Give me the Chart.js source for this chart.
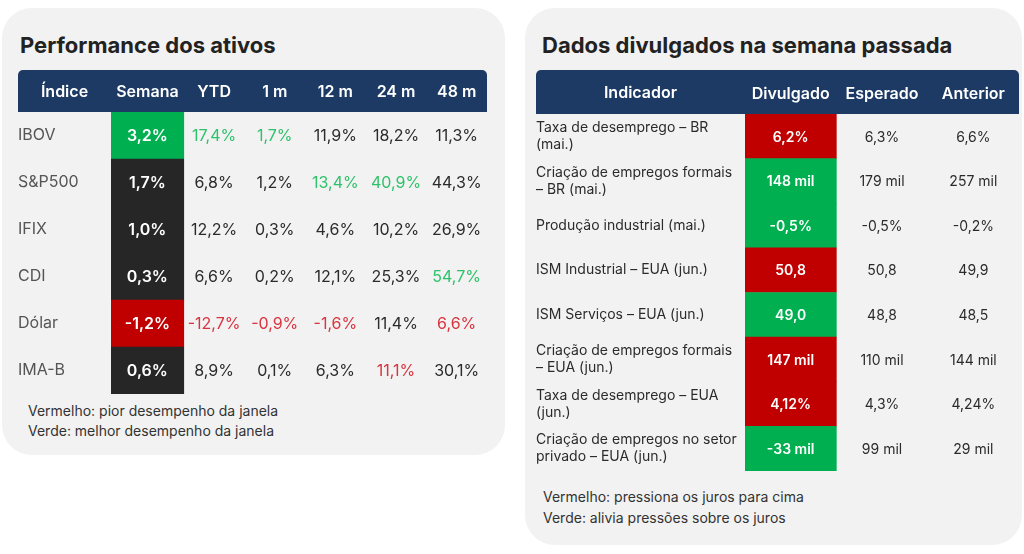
<!DOCTYPE html>
<html lang="pt-BR">
<head>
<meta charset="utf-8">
<title>Performance dos ativos / Dados divulgados</title>
<script src="https://cdn.jsdelivr.net/npm/chart.js@4.4.1/dist/chart.umd.min.js"></script>
<style>
  html, body { margin: 0; padding: 0; background: #fff; }
  body { width: 1024px; height: 554px; position: relative; overflow: hidden; font-family: Inter, "Noto Sans", sans-serif; color: #262626; }
  .painel { position: absolute; background: #f2f2f2; border-radius: 30px; }
  .titulo { position: absolute; font-size: 22px; line-height: 22px; font-weight: 700; color: #222; white-space: nowrap; }
  .nota { position: absolute; color: #333; white-space: nowrap; font-size: 14px; }
  .caixa { position: absolute; }
</style>
</head>
<body>
<div class="painel" style="left:2px;top:8px;width:503px;height:447px"></div>
<div class="painel" style="left:525px;top:8px;width:497px;height:537px"></div>

<div class="titulo" style="left:20px;top:34px">Performance dos ativos</div>
<div class="titulo" style="left:542px;top:34px">Dados divulgados na semana passada</div>

<div class="caixa" style="left:0;top:70px;width:505px;height:324px"><canvas id="tabAtivos"></canvas></div>
<div class="caixa" style="left:520px;top:70px;width:502px;height:401px"><canvas id="tabDados"></canvas></div>

<div class="nota" style="left:28px;top:401px;line-height:20px">Vermelho: pior desempenho da janela<br>Verde: melhor desempenho da janela</div>
<div class="nota" style="left:543px;top:486px;line-height:21px">Vermelho: pressiona os juros para cima<br>Verde: alivia pressões sobre os juros</div>

<script>
// tabela 1: performance dos ativos (%)
const ativos = ['IBOV', 'S&P500', 'IFIX', 'CDI', 'Dólar', 'IMA-B'];
const janelas = ['Semana', 'YTD', '1 m', '12 m', '24 m', '48 m'];
const semana = [3.2, 1.7, 1.0, 0.3, -1.2, 0.6];
const ytd = [17.4, 6.8, 12.2, 6.6, -12.7, 8.9];
const umMes = [1.7, 1.2, 0.3, 0.2, -0.9, 0.1];
const dozeMeses = [11.9, 13.4, 4.6, 12.1, -1.6, 6.3];
const vinteQuatroMeses = [18.2, 40.9, 10.2, 25.3, 11.4, 11.1];
const quarentaOitoMeses = [11.3, 44.3, 26.9, 54.7, 6.6, 30.1];
// linha com melhor / pior desempenho em cada janela
const melhor = [0, 0, 0, 1, 1, 3];
const pior = [4, 4, 4, 4, 5, 4];

// tabela 2: dados divulgados
const indicadores = [
  ['Taxa de desemprego – BR', '(mai.)'],
  ['Criação de empregos formais', '– BR (mai.)'],
  'Produção industrial (mai.)',
  'ISM Industrial – EUA (jun.)',
  'ISM Serviços – EUA (jun.)',
  ['Criação de empregos formais', '– EUA (jun.)'],
  ['Taxa de desemprego – EUA', '(jun.)'],
  ['Criação de empregos no setor', 'privado – EUA (jun.)']
];
const colunasDados = ['Divulgado', 'Esperado', 'Anterior'];
const divulgado = ['6,2%', '148 mil', '-0,5%', '50,8', '49,0', '147 mil', '4,12%', '-33 mil'];
const esperado = ['6,3%', '179 mil', '-0,5%', '50,8', '48,8', '110 mil', '4,3%', '99 mil'];
const anterior = ['6,6%', '257 mil', '-0,2%', '49,9', '48,5', '144 mil', '4,24%', '29 mil'];
// true = pressiona os juros (vermelho), false = alivia (verde)
const pressiona = [true, false, false, true, false, true, true, false];

const AZUL = '#1c3a63';
const VERDE = '#00b050';
const VERMELHO = '#c00000';
const ESCURO = '#262626';

Chart.defaults.font.family = 'Inter, "Noto Sans", sans-serif';
Chart.defaults.animation = false;

const pct = v => v.toFixed(1).replace('.', ',') + '%';

// centro da coluna j no eixo x (a primeira coluna pode ser mais larga)
const centro = (j, larg1) => j === 0 ? larg1 / 2 : larg1 + (j - 1) + 0.5;

// desenha o cabeçalho e os textos das células
const tabela = {
  id: 'tabela',
  beforeDraw(chart, args, opts) {
    const { ctx, scales: { x, y } } = chart;
    ctx.save();
    ctx.fillStyle = AZUL;
    ctx.beginPath();
    ctx.roundRect(y.left, x.top, x.right - y.left, x.bottom - x.top, [5, 5, 0, 0]);
    ctx.fill();
    ctx.fillStyle = '#fff';
    ctx.font = '600 16px Inter, "Noto Sans", sans-serif';
    ctx.textAlign = 'center';
    ctx.textBaseline = 'middle';
    ctx.fillText(opts.primeira, (y.left + y.right) / 2, (x.top + x.bottom) / 2 + 1);
    ctx.restore();
  },
  afterDatasetsDraw(chart, args, opts) {
    const { ctx, scales: { x, y } } = chart;
    ctx.save();
    ctx.textAlign = 'center';
    ctx.textBaseline = 'middle';
    opts.colunas.forEach((col, j) => {
      col.forEach((txt, i) => {
        const estilo = opts.estilo(i, j);
        ctx.fillStyle = estilo.cor;
        ctx.font = (estilo.negrito ? '600 ' : '400 ') + opts.tamanho + 'px Inter, "Noto Sans", sans-serif';
        ctx.fillText(txt, x.getPixelForValue(centro(j, opts.larg1)), y.getPixelForValue(i) + 1);
      });
    });
    ctx.restore();
  }
};

function opcoes(colunas, larg1, larguraEixo, alturaCab, padding, tamRotulo, corRotulo) {
  return {
    responsive: true,
    maintainAspectRatio: false,
    indexAxis: 'y',
    layout: { padding: padding },
    plugins: { legend: { display: false }, tooltip: { enabled: false } },
    scales: {
      x: {
        type: 'linear', position: 'top', min: 0, max: larg1 + colunas.length - 1,
        afterBuildTicks: s => { s.ticks = colunas.map((_, j) => ({ value: centro(j, larg1) })); },
        afterFit: s => { s.height = alturaCab; },
        ticks: {
          autoSkip: false, maxRotation: 0, padding: 10,
          color: '#fff', font: { size: 16, weight: '600' },
          callback: (v, i) => colunas[i]
        },
        grid: { display: false, drawTicks: false },
        border: { display: false }
      },
      y: {
        type: 'category',
        afterFit: s => { s.width = larguraEixo; s.paddingTop = 0; s.paddingBottom = 0; },
        ticks: { crossAlign: 'far', color: corRotulo, font: { size: tamRotulo, lineHeight: 1.2 }, padding: 0 },
        grid: { display: false, drawTicks: false },
        border: { display: false }
      }
    }
  };
}

// ---- tabela 1
const LARG_SEMANA = 1.2;
const corSemana = ativos.map((_, i) => i === melhor[0] ? VERDE : i === pior[0] ? VERMELHO : ESCURO);
const op1 = opcoes(janelas, LARG_SEMANA, 93, 42, { left: 18, right: 18, top: 0, bottom: 0 }, 16, '#555');
op1.plugins.tabela = {
  primeira: 'Índice',
  tamanho: 16,
  larg1: LARG_SEMANA,
  colunas: [semana, ytd, umMes, dozeMeses, vinteQuatroMeses, quarentaOitoMeses].map(c => c.map(pct)),
  estilo: (i, j) => {
    if (j === 0) return { cor: '#fff', negrito: true };
    if (i === melhor[j]) return { cor: '#2ec26b' };
    if (i === pior[j]) return { cor: '#d9333f' };
    return { cor: '#2b2b2b' };
  }
};
new Chart(document.getElementById('tabAtivos'), {
  type: 'bar',
  data: {
    labels: ativos,
    datasets: [{
      label: 'Semana',
      data: ativos.map(() => [0, LARG_SEMANA]),
      backgroundColor: corSemana,
      barPercentage: 1, categoryPercentage: 1, borderWidth: 0
    }]
  },
  options: op1,
  plugins: [tabela]
});

// ---- tabela 2
const op2 = opcoes(colunasDados, 1, 209, 44, { left: 16, right: 3, top: 0, bottom: 0 }, 14, '#2b2b2b');
op2.plugins.tabela = {
  primeira: 'Indicador',
  tamanho: 14,
  larg1: 1,
  colunas: [divulgado, esperado, anterior],
  estilo: (i, j) => j === 0 ? { cor: '#fff', negrito: true } : { cor: '#2b2b2b' }
};
new Chart(document.getElementById('tabDados'), {
  type: 'bar',
  data: {
    labels: indicadores,
    datasets: [{
      label: 'Divulgado',
      data: indicadores.map(() => [0, 1]),
      backgroundColor: pressiona.map(p => p ? VERMELHO : VERDE),
      barPercentage: 1, categoryPercentage: 1, borderWidth: 0
    }]
  },
  options: op2,
  plugins: [tabela]
});
</script>
</body>
</html>
